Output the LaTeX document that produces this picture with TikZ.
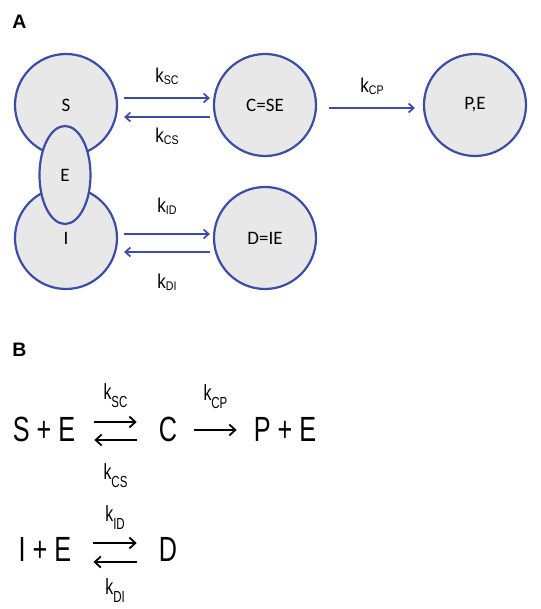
\documentclass[tikz,border=0pt]{standalone}
\usepackage{fontspec}
\setmainfont{Carlito}
\newfontfamily\condfont[FakeStretch=0.72]{Liberation Sans}
\newfontfamily\ratefont[FakeStretch=0.85]{Liberation Sans}
\newfontfamily\panelfont{Liberation Sans}
\usepackage{tikz}
\usetikzlibrary{arrows.meta,shapes.geometric}
\definecolor{ringblue}{HTML}{3B4DA6}
\definecolor{molgray}{HTML}{E8E8E8}
\newcommand{\kA}[1]{k\raisebox{-2pt}{\fontsize{12.5}{13}\selectfont #1}}
\newcommand{\kB}[1]{k\raisebox{-8pt}{\fontsize{16}{17}\selectfont #1}}

\begin{document}
\begin{tikzpicture}
    [
      x=1pt, y=1pt,
      panel/.style = {font=\panelfont\bfseries\fontsize{19.5}{22}\selectfont},
      mol/.style = {circle, draw=ringblue, fill=molgray, line width=2.2pt,
        minimum size=102pt, inner sep=0pt, font=\fontsize{19}{21}\selectfont},
      enz/.style = {ellipse, draw=ringblue, fill=molgray, line width=2.2pt,
        minimum width=51pt, minimum height=98pt, inner sep=0pt,
        font=\fontsize{19}{21}\selectfont},
      klabel/.style = {inner sep=0pt, font=\ratefont\fontsize{20}{22}\selectfont},
      blueflow/.style = {draw=ringblue, line width=1.7pt,
        -{Straight Barb[length=5pt,width=9pt]}},
      eqn/.style = {inner sep=0pt, font=\condfont\fontsize{35}{40}\selectfont},
      klabelb/.style = {inner sep=0pt, font=\condfont\fontsize{22}{24}\selectfont},
      blackflow/.style = {draw=black, line width=1.8pt,
        -{Straight Barb[length=6pt,width=11pt]}}
    ]
    \useasboundingbox (0,0) rectangle (540,609);
    \node [panel] (labA) at (19.5,587) {A};
    \node [mol] (S) at (66,504) {S};
    \node [mol] (I) at (66,371) {I};
    \node [enz] (E) at (65,434) {E};
    \node [mol] (C) at (265,504) {C=SE};
    \node [mol] (D) at (265,371) {D=IE};
    \node [mol] (P) at (475,504) {P,E};
    \draw [blueflow] ([xshift=6pt,yshift=7pt]S.east) -- ([xshift=-3pt,yshift=7pt]C.west)
      node [klabel, midway, above=13pt] (kSC) {\kA{SC}};
    \draw [blueflow] ([xshift=-3pt,yshift=-12pt]C.west) -- ([xshift=6pt,yshift=-12pt]S.east)
      node [klabel, midway, below=10pt] (kCS) {\kA{CS}};
    \draw [blueflow] ([xshift=12pt,yshift=-3pt]C.east) -- ([xshift=-8pt,yshift=-3pt]P.west)
      node [klabel, midway, above=13pt] (kCP) {\kA{CP}};
    \draw [blueflow] ([xshift=6pt,yshift=4pt]I.east) -- ([xshift=-3pt,yshift=4pt]D.west)
      node [klabel, midway, above=19pt] (kID) {\kA{ID}};
    \draw [blueflow] ([xshift=-3pt,yshift=-14pt]D.west) -- ([xshift=6pt,yshift=-14pt]I.east)
      node [klabel, midway, below=21pt] (kDI) {\kA{DI}};

    \node [panel] (labB) at (19.5,259) {B};
    \node [eqn] (SE) at (44,179.5) {S + E};
    \node [eqn] (Cb) at (168,179.5) {C};
    \node [eqn] (PE) at (285,179.5) {P + E};
    \node [eqn] (IE) at (45,59.5) {I + E};
    \node [eqn] (Db) at (168,59.5) {D};
    \draw [blackflow] ([xshift=19pt,yshift=7.5pt]SE.east) -- ([xshift=-22pt,yshift=7.5pt]Cb.west)
      node [klabelb, midway, above=13pt] (bSC) {\kB{SC}};
    \draw [blackflow] ([xshift=-22pt,yshift=-10.5pt]Cb.west) -- ([xshift=19pt,yshift=-10.5pt]SE.east)
      node [klabelb, midway, below=23pt] (bCS) {\kB{CS}};
    \draw [blackflow] ([xshift=17pt,yshift=-0.5pt]Cb.east) -- ([xshift=-17pt,yshift=-0.5pt]PE.west)
      node [klabelb, midway, above=20pt] (bCP) {\kB{CP}};
    \draw [blackflow] ([xshift=22pt,yshift=6.5pt]IE.east) -- ([xshift=-22pt,yshift=6.5pt]Db.west)
      node [klabelb, midway, above=13pt] (bID) {\kB{ID}};
    \draw [blackflow] ([xshift=-22pt,yshift=-12.5pt]Db.west) -- ([xshift=22pt,yshift=-12.5pt]IE.east)
      node [klabelb, midway, below=16pt] (bDI) {\kB{DI}};
\end{tikzpicture}
\end{document}
